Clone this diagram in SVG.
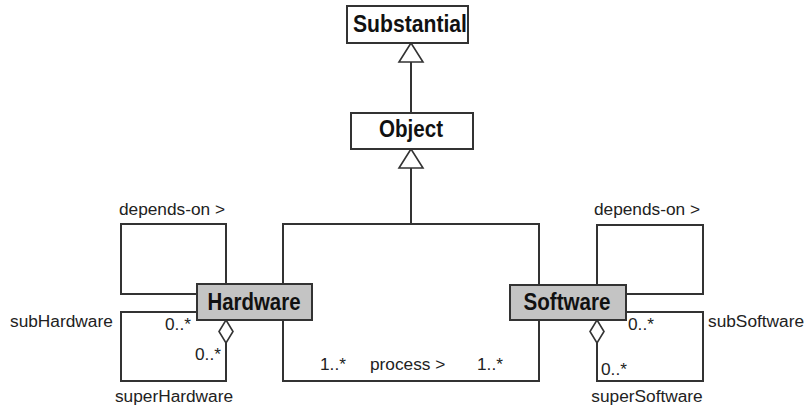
<svg xmlns="http://www.w3.org/2000/svg" width="806" height="409" viewBox="0 0 806 409">
<defs>
<style>
.box{fill:#ffffff;stroke:#333333;stroke-width:2}
.cls{fill:#c4c4c4;stroke:#333333;stroke-width:2}
.ln{fill:none;stroke:#333333;stroke-width:2}
.hd{fill:#ffffff;stroke:#333333;stroke-width:1.6}
.t{font-family:"Liberation Sans",Arial,sans-serif;font-size:23px;font-weight:bold;fill:#111111}
.l{font-family:"Liberation Sans",Arial,sans-serif;font-size:17.3px;fill:#222222}
</style>
</defs>
<rect width="806" height="409" fill="#ffffff"/>
<g id="connectors">
<line class="ln" x1="411" y1="62" x2="411" y2="113"/>
<polygon class="hd" points="411,43 399,62 423,62"/>
<line class="ln" x1="411" y1="168" x2="411" y2="224"/>
<polygon class="hd" points="411,149 399,168 423,168"/>
<polyline class="ln" points="283,284 283,224 539,224 539,285"/>
<polyline class="ln" points="283,320 283,381 539,381 539,320"/>
<polyline class="ln" points="197,294 121,294 121,224 226,224 226,284"/>
<polyline class="ln" points="197,312 121,312 121,381 226,381 226,343"/>
<polygon class="hd" points="226,320 233,331.5 226,343 219,331.5"/>
<polyline class="ln" points="597,285 597,225 703,225 703,294 626,294"/>
<polyline class="ln" points="626,312 703,312 703,381 597,381 597,343"/>
<polygon class="hd" points="597,320 604,331.5 597,343 590,331.5"/>
<text class="l" x="172" y="215" text-anchor="middle">depends-on &gt;</text>
<text class="l" x="10" y="327">subHardware</text>
<text class="l" x="165" y="330">0..*</text>
<text class="l" x="195" y="360">0..*</text>
<text class="l" x="174" y="402" text-anchor="middle">superHardware</text>
<text class="l" x="647" y="215" text-anchor="middle">depends-on &gt;</text>
<text class="l" x="708" y="327">subSoftware</text>
<text class="l" x="628" y="330">0..*</text>
<text class="l" x="601" y="375">0..*</text>
<text class="l" x="647" y="402" text-anchor="middle">superSoftware</text>
<text class="l" x="320" y="370">1..*</text>
<text class="l" x="370" y="370">process &gt;</text>
<text class="l" x="477" y="370">1..*</text>
</g>
<g id="substantial">
<rect class="box" x="347" y="6" width="121" height="37"/>
<text class="t" x="410" y="32" text-anchor="middle" textLength="114" lengthAdjust="spacingAndGlyphs">Substantial</text>
</g>
<g id="object">
<rect class="box" x="351" y="113" width="122" height="36"/>
<text class="t" x="411" y="137" text-anchor="middle" textLength="64" lengthAdjust="spacingAndGlyphs">Object</text>
</g>
<g id="hardware">
<rect class="cls" x="197" y="284" width="115" height="36"/>
<text class="t" x="254" y="310" text-anchor="middle" textLength="93" lengthAdjust="spacingAndGlyphs">Hardware</text>
</g>
<g id="software">
<rect class="cls" x="510" y="285" width="116" height="35"/>
<text class="t" x="567" y="310" text-anchor="middle" textLength="87" lengthAdjust="spacingAndGlyphs">Software</text>
</g>
</svg>
